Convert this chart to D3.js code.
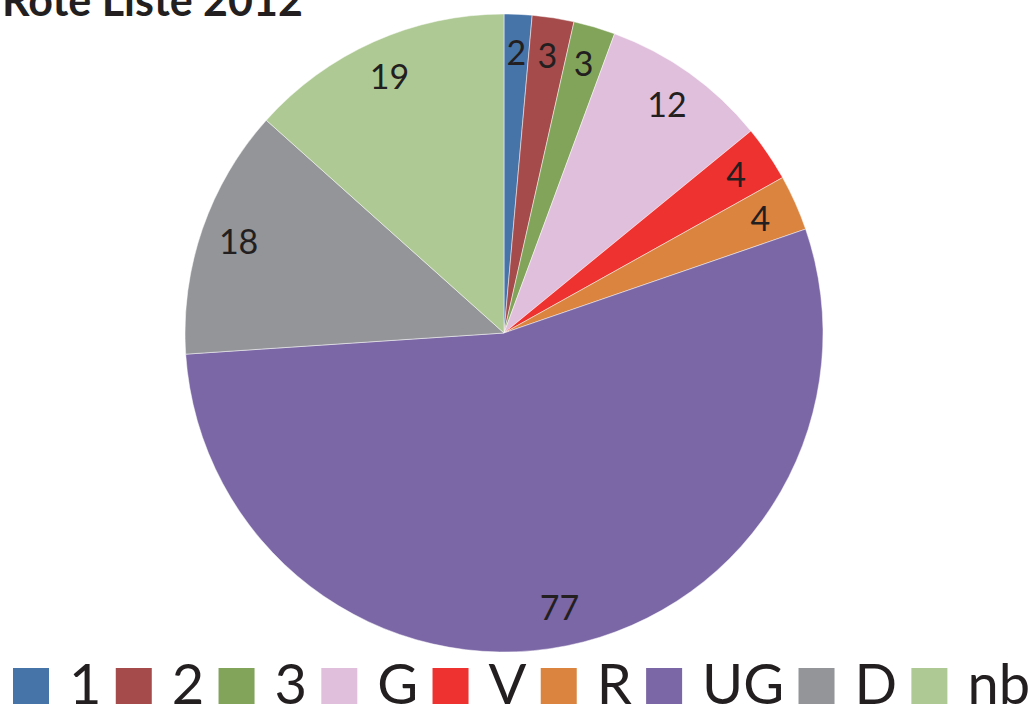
<!DOCTYPE html>
<html>
<head>
<meta charset="utf-8">
<script src="https://cdn.jsdelivr.net/npm/d3@7"></script>
<style>
  html, body { margin: 0; padding: 0; background: #fff; }
  svg { display: block; }
</style>
</head>
<body>
<svg id="chart" width="1035" height="706"></svg>
<script>
// Rote Liste 2012 — number of species per category
const categories = ["1", "2", "3", "G", "V", "R", "UG", "D", "nb"];
const counts = [2, 3, 3, 12, 4, 4, 77, 18, 19];
const colors = ["#4674a8", "#a54b4b", "#82a45a", "#e0bfdc", "#ee3230", "#da8440", "#7b67a5", "#939598", "#aec994"];

const width = 1035, height = 706;
const cx = 504, cy = 333, radius = 319;
const font = "Lato, 'Open Sans', 'DejaVu Sans', sans-serif";
const textColor = "#231f20";

const svg = d3.select("#chart");

const data = categories.map((c, i) => ({ cat: c, value: counts[i] }));
const color = d3.scaleOrdinal().domain(categories).range(colors);

const pie = d3.pie().value(d => d.value).sort(null);
const arc = d3.arc().innerRadius(0).outerRadius(radius);
const labelArc = d3.arc().innerRadius(radius * 0.88).outerRadius(radius * 0.88);

const g = svg.append("g").attr("transform", `translate(${cx},${cy})`);
const arcs = pie(data);

g.selectAll("path.slice")
  .data(arcs)
  .join("path")
  .attr("class", "slice")
  .attr("d", arc)
  .attr("fill", d => color(d.data.cat))
  .attr("stroke", "#ffffff")
  .attr("stroke-width", 0.8)
  .attr("stroke-opacity", 0.6);

g.selectAll("text.value")
  .data(arcs)
  .join("text")
  .attr("class", "value")
  .attr("transform", d => `translate(${labelArc.centroid(d)})`)
  .attr("text-anchor", "middle")
  .attr("dy", "0.36em")
  .attr("font-family", font)
  .attr("font-size", 34)
  .attr("fill", textColor)
  .text(d => d.data.value);

// Title (partially clipped at the top edge)
svg.append("text")
  .attr("x", 2)
  .attr("y", 16)
  .attr("font-family", font)
  .attr("font-weight", "bold")
  .attr("font-size", 43)
  .attr("fill", textColor)
  .text("Rote Liste 2012");

// Legend row along the bottom, spread to fill the available width
const legend = svg.append("g").attr("class", "legend");
const sq = 36, legendY = 668, labelGap = 20;
const legendFont = 56;
const left = 13, right = 1030;

const items = categories.map(c => {
  const item = legend.append("g");
  const rect = item.append("rect")
    .attr("y", legendY)
    .attr("width", sq).attr("height", sq)
    .attr("fill", color(c));
  const t = item.append("text")
    .attr("y", legendY + sq)
    .attr("font-family", font)
    .attr("font-size", legendFont)
    .attr("fill", textColor)
    .text(c);
  return { rect, t, w: t.node().getComputedTextLength() };
});

const used = d3.sum(items, d => sq + labelGap + d.w);
const itemGap = (right - left - used) / (items.length - 1);
let x = left;
items.forEach(d => {
  d.rect.attr("x", x);
  d.t.attr("x", x + sq + labelGap);
  x += sq + labelGap + d.w + itemGap;
});
</script>
</body>
</html>
